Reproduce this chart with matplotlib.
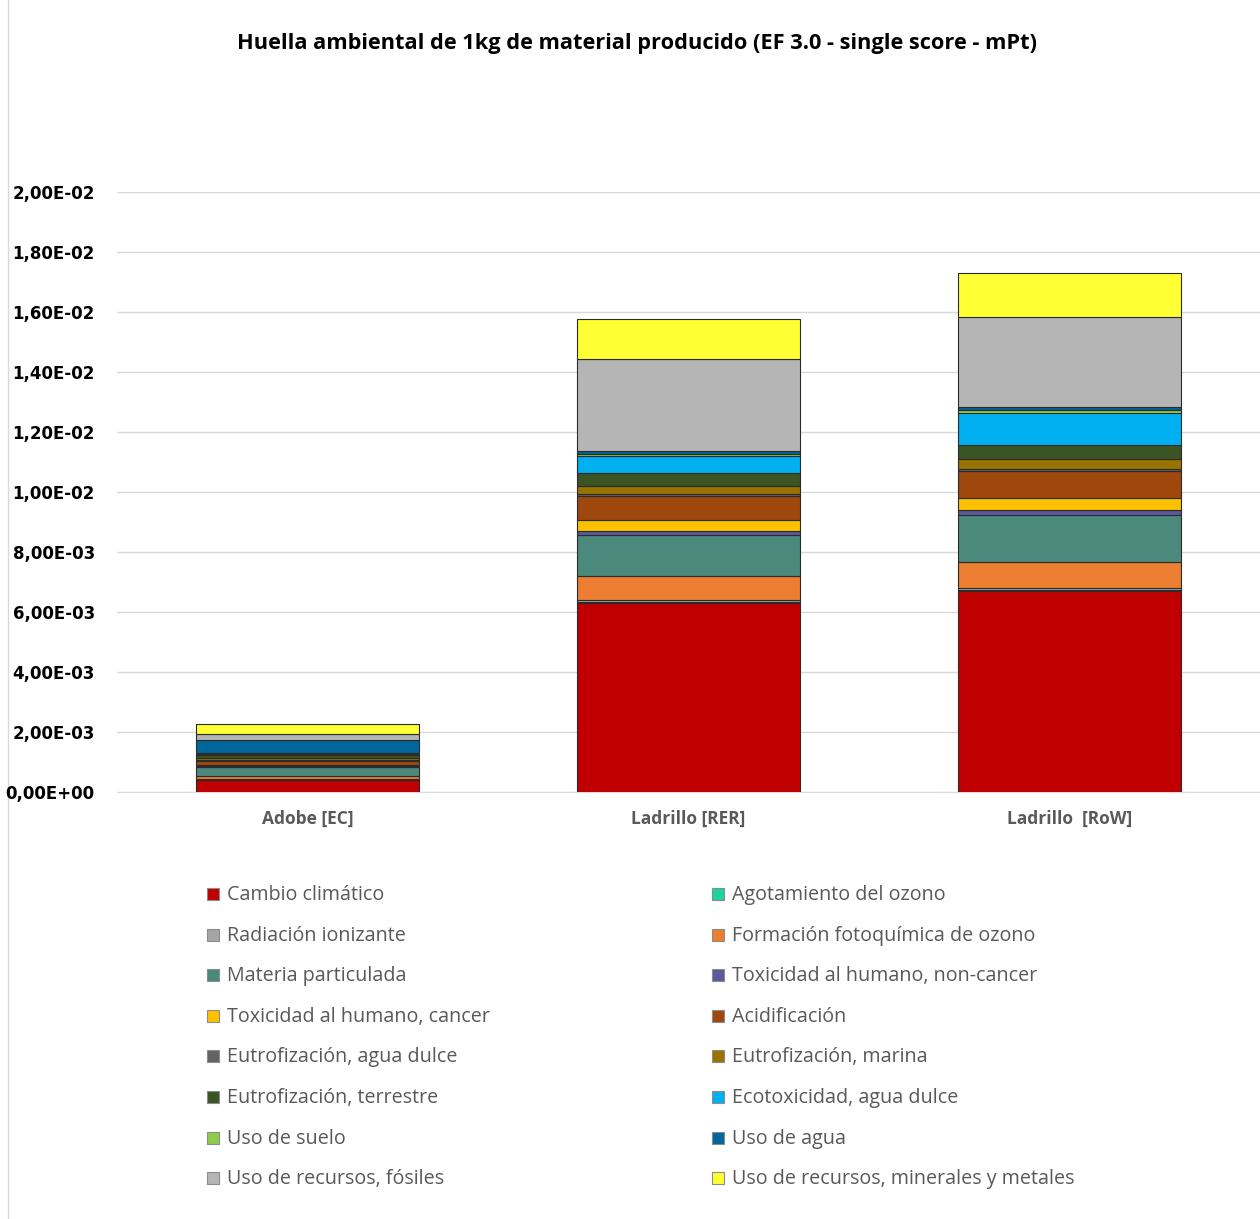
import numpy as np
import matplotlib
matplotlib.use('Agg')
import matplotlib.pyplot as plt
from matplotlib.patches import Rectangle
from matplotlib.lines import Line2D
from matplotlib.ticker import FuncFormatter

# impact categories, in stacking order (bottom -> top)
categorias = [
    "Cambio climático",
    "Agotamiento del ozono",
    "Radiación ionizante",
    "Formación fotoquímica de ozono",
    "Materia particulada",
    "Toxicidad al humano, non-cancer",
    "Toxicidad al humano, cancer",
    "Acidificación",
    "Eutrofización, agua dulce",
    "Eutrofización, marina",
    "Eutrofización, terrestre",
    "Ecotoxicidad, agua dulce",
    "Uso de suelo",
    "Uso de agua",
    "Uso de recursos, fósiles",
    "Uso de recursos, minerales y metales",
]

colores = [
    '#C00000', '#19D3A2', '#A5A5A5', '#ED7D31',
    '#4A897B', '#5A5A9A', '#FFC000', '#9E480E',
    '#636363', '#997300', '#3A5424', '#00B0F0',
    '#8FCB4C', '#01669B', '#B5B5B5', '#FFFF33',
]

materiales = ["Adobe [EC]", "Ladrillo [RER]", "Ladrillo  [RoW]"]

# single score (mPt) per category, one list per material
adobe_ec = [0.00040, 0.00001, 0.00001, 0.00011, 0.00029, 0.00004, 0.00003, 0.00013,
            0.00005, 0.00008, 0.00008, 0.00005, 0.00002, 0.00044, 0.00019, 0.00033]
ladrillo_rer = [0.00630, 0.00002, 0.00008, 0.00080, 0.00137, 0.00013, 0.00037, 0.00080,
                0.00007, 0.00027, 0.00043, 0.00057, 0.00007, 0.00010, 0.00306, 0.00133]
ladrillo_row = [0.00671, 0.00003, 0.00006, 0.00087, 0.00157, 0.00016, 0.00039, 0.00091,
                0.00006, 0.00033, 0.00048, 0.00106, 0.00012, 0.00008, 0.00300, 0.00146]

valores = np.array([adobe_ec, ladrillo_rer, ladrillo_row]).T

W, H = 1260, 1219
fig = plt.figure(figsize=(W / 100, H / 100), dpi=100)
ax = fig.add_axes([117 / W, 1 - 792 / H, 1 - 117 / W, (792 - 192) / H])

x = np.arange(len(materiales))
base = np.zeros(len(materiales))
for vals, col in zip(valores, colores):
    ax.bar(x, vals, 0.587, bottom=base, color=col, edgecolor='#2b2b2b',
           linewidth=0.8, zorder=3)
    base += vals

ax.set_xlim(-0.5, 2.5)
ax.set_ylim(0, 0.02)
ax.set_yticks(np.arange(0, 0.0201, 0.002))
ax.yaxis.set_major_formatter(FuncFormatter(lambda v, p: ('%.2E' % v).replace('.', ',')))
ax.grid(True, axis='y', color='#d9d9d9', linewidth=1, zorder=0)
for s in ['top', 'right', 'left']:
    ax.spines[s].set_visible(False)
ax.spines['bottom'].set_color('#d9d9d9')
ax.tick_params(axis='both', length=0)
ax.tick_params(axis='y', pad=16, labelsize=12)
ax.tick_params(axis='x', pad=13, labelsize=12.5, labelcolor='#595959')
for t in ax.get_yticklabels():
    t.set_fontweight('bold')
ax.set_xticks(x)
ax.set_xticklabels(materiales, fontweight='bold', family='Open Sans')

fig.text(637 / W, 1 - 43 / H,
         "Huella ambiental de 1kg de material producido (EF 3.0 - single score - mPt)",
         ha='center', va='center', fontsize=15.7, fontweight='bold',
         family='Open Sans')

# left border of the chart area, kept behind the tick labels
fig.add_artist(Line2D([8 / W, 8 / W], [0, 1], color='#d9d9d9', linewidth=1, zorder=-1))

# legend, two columns filled row by row
col_x = [207, 712]
row_y0, row_dy = 894, 40.6
sq = 12
for i, (nombre, col) in enumerate(zip(categorias, colores)):
    r, c = divmod(i, 2)
    yc = row_y0 + r * row_dy
    fig.add_artist(Rectangle((col_x[c] / W, 1 - (yc + sq / 2) / H), sq / W, sq / H,
                             facecolor=col, edgecolor='#8c8c8c', linewidth=0.8,
                             transform=fig.transFigure))
    fig.text((col_x[c] + 20) / W, 1 - (yc + 1) / H, nombre, ha='left', va='center',
             fontsize=14.2, color='#595959', family='Open Sans')

fig.savefig('out.png', dpi=100)
